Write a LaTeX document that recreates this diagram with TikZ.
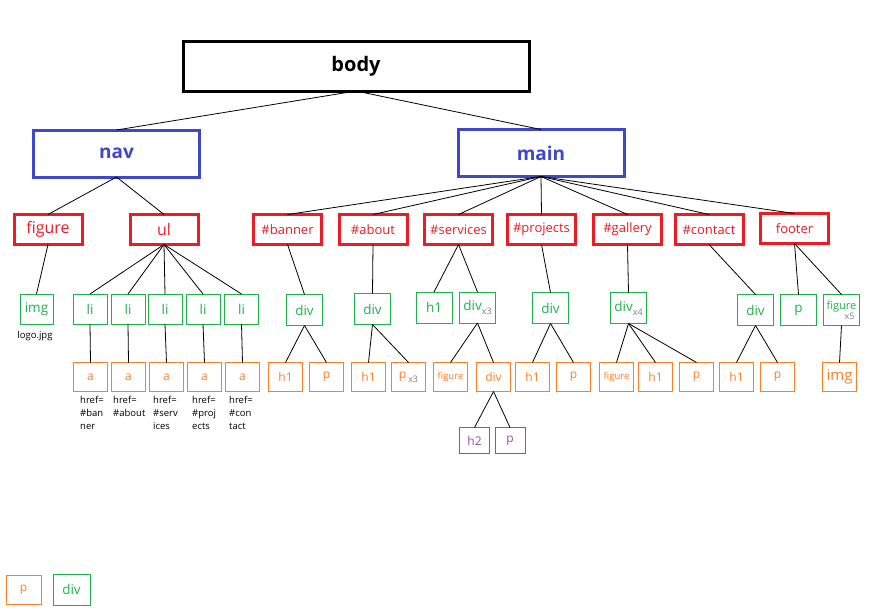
\documentclass[tikz,border=0pt]{standalone}
\usepackage{fontspec}
\setmainfont{Open Sans}
\definecolor{cred}{HTML}{ED1C24}
\definecolor{cblue}{HTML}{3F48CC}
\definecolor{cgreen}{HTML}{22B14C}
\definecolor{corange}{HTML}{FF7F27}
\definecolor{cpurple}{HTML}{A349A4}
\definecolor{cgray}{HTML}{7F7F7F}
\newcommand{\mlt}[1]{\raisebox{-0.55ex}{\fontsize{9}{10}\selectfont\color{cgray}#1}}
\tikzset{
  box/.style={draw, inner sep=0pt, outer sep=0pt, align=center},
  lvzero/.style={box, line width=3pt, minimum width=346pt, minimum height=50pt, font=\fontsize{20}{24}\selectfont\bfseries},
  lvone/.style={box, draw=cblue, text=cblue, line width=3pt, minimum width=166pt, minimum height=47pt, font=\fontsize{19}{22}\selectfont\bfseries},
  lvtwo/.style={box, draw=cred, text=cred, line width=3pt, minimum width=68pt, minimum height=30pt, font=\fontsize{13}{16}\selectfont},
  bigred/.style={font=\fontsize{16}{19}\selectfont},
  lvthree/.style={box, draw=cgreen, text=cgreen, line width=0.9pt, minimum width=36pt, minimum height=31pt, font=\fontsize{13.5}{16}\selectfont},
  lvfour/.style={box, draw=corange, text=corange, line width=0.9pt, minimum width=34pt, minimum height=29pt, font=\fontsize{12}{14}\selectfont},
  smallfig/.style={font=\fontsize{9.5}{11}\selectfont},
  lvfive/.style={box, draw=cpurple, text=cpurple, line width=0.9pt, minimum width=30pt, minimum height=26pt, font=\fontsize{12}{14}\selectfont},
  note/.style={inner sep=0pt, align=left, font=\fontsize{9.5}{13}\selectfont, anchor=north west},
  edge/.style={line width=0.8pt, black},
}
\begin{document}
\begin{tikzpicture}[x=1pt,y=-1pt]
\useasboundingbox[fill=white] (0,0) rectangle (875,614);
% level 0
\node[lvzero] (body) at (356,66) {body};
% level 1
\node[lvone] (nav) at (116.5,153.5) {nav};
\node[lvone] (main) at (541,153) {main};
% level 2
\node[lvtwo,bigred] (figure) at (48,229.5) {figure};
\node[lvtwo,bigred] (ul) at (164,229.5) {ul};
\node[lvtwo] (banner) at (287.5,229.5) {\#banner};
\node[lvtwo] (about) at (373,229.5) {\#about};
\node[lvtwo] (services) at (458.5,229.5) {\#services};
\node[lvtwo] (projects) at (541.5,229.5) {\#projects};
\node[lvtwo] (gallery) at (627.5,229.5) {\#gallery};
\node[lvtwo] (contact) at (709,229.5) {\#contact};
\node[lvtwo] (footer) at (794.5,228.5) {footer};
% level 3
\node[lvthree,minimum width=33pt,minimum height=30pt] (img) at (36.5,309) {img};
\node[lvthree,minimum width=34pt,minimum height=30pt] (lia) at (90,309) {li};
\node[lvthree,minimum width=34pt,minimum height=30pt] (lib) at (128,309) {li};
\node[lvthree,minimum width=34pt,minimum height=30pt] (lic) at (165,309) {li};
\node[lvthree,minimum width=34pt,minimum height=30pt] (lid) at (203,309) {li};
\node[lvthree,minimum width=34pt,minimum height=30pt] (lie) at (241.5,309) {li};
\node[lvthree] (divban) at (304.5,310) {div};
\node[lvthree] (divabo) at (372.5,309) {div};
\node[lvthree] (hser) at (434,307.5) {h1};
\node[lvthree] (divser) at (477.5,307.5) {div\mlt{x3}};
\node[lvthree] (divpro) at (550.5,308) {div};
\node[lvthree] (divgal) at (628.5,308) {div\mlt{x4}};
\node[lvthree] (divcon) at (755.5,310) {div};
\node[lvthree] (pfoot) at (798.5,310) {p};
\node[lvthree,font=\fontsize{11}{12}\selectfont] (figfoot) at (841.5,310) {figure\\[-5pt]\hspace*{16pt}\mlt{x5}};
% level 4
\node[lvfour] (aa) at (90.5,377) {a};
\node[lvfour] (ab) at (128.5,377) {a};
\node[lvfour] (ac) at (166.5,377) {a};
\node[lvfour] (ad) at (204.5,377) {a};
\node[lvfour] (ae) at (242.5,377) {a};
\node[lvfour] (hban) at (285.5,377) {h1};
\node[lvfour] (pban) at (326.5,377) {p};
\node[lvfour] (habo) at (368.5,377) {h1};
\node[lvfour] (pabo) at (408.5,377) {p\,\mlt{x3}};
\node[lvfour,smallfig] (figser) at (450.5,377) {figure};
\node[lvfour] (divinner) at (493.5,377) {div};
\node[lvfour] (hpro) at (532.5,377) {h1};
\node[lvfour] (ppro) at (573.5,377) {p};
\node[lvfour,smallfig] (figgal) at (616.5,377) {figure};
\node[lvfour] (hgal) at (655.5,377) {h1};
\node[lvfour] (pgal) at (696.5,377) {p};
\node[lvfour] (hcon) at (736.5,377) {h1};
\node[lvfour] (pcon) at (777.5,377) {p};
\node[lvfour,font=\fontsize{15}{17}\selectfont] (imgfoot) at (839.5,377) {img};
% level 5
\node[lvfive] (htwo) at (474.5,440.5) {h2};
\node[lvfive] (pinner) at (510,440.5) {p};
% notes
\node[inner sep=0pt, font=\fontsize{9.5}{11}\selectfont] (logo) at (35,336) {logo.jpg};
\node[note] (na) at (80,396) {href=\\\#ban\\ner};
\node[note] (nb) at (113,396) {href=\\\#about};
\node[note] (nc) at (153,396) {href=\\\#serv\\ices};
\node[note] (nd) at (192,396) {href=\\\#proj\\ects};
\node[note] (ne) at (229,396) {href=\\\#con\\tact};
% legend
\node[lvfour,minimum width=35pt,minimum height=29pt] (legp) at (23.5,589.5) {p};
\node[lvthree,minimum width=37pt,minimum height=31pt] (legdiv) at (71.5,589.5) {div};
% edges
\draw[edge] (body.south) -- (nav.north);
\draw[edge] (body.south) -- (main.north);
\foreach \c in {figure,ul} \draw[edge] (nav.south) -- (\c.north);
\foreach \c in {banner,about,services,projects,gallery,contact,footer} \draw[edge] (main.south) -- (\c.north);
\draw[edge] (figure.south) -- (img.north);
\foreach \c in {lia,lib,lic,lid,lie} \draw[edge] (ul.south) -- (\c.north);
\draw[edge] (lia.south) -- (aa.north);
\draw[edge] (lib.south) -- (ab.north);
\draw[edge] (lic.south) -- (ac.north);
\draw[edge] (lid.south) -- (ad.north);
\draw[edge] (lie.south) -- (ae.north);
\draw[edge] (banner.south) -- (divban.north);
\draw[edge] (about.south) -- (divabo.north);
\draw[edge] (services.south) -- (hser.north);
\draw[edge] (services.south) -- (divser.north);
\draw[edge] (projects.south) -- (divpro.north);
\draw[edge] (gallery.south) -- (divgal.north);
\draw[edge] (contact.south) -- (divcon.north);
\draw[edge] (footer.south) -- (pfoot.north);
\draw[edge] (footer.south) -- (figfoot.north);
\draw[edge] (divban.south) -- (hban.north);
\draw[edge] (divban.south) -- (pban.north);
\draw[edge] (divabo.south) -- (habo.north);
\draw[edge] (divabo.south) -- (pabo.north);
\draw[edge] (divser.south) -- (figser.north);
\draw[edge] (divser.south) -- (divinner.north);
\draw[edge] (divinner.south) -- (htwo.north);
\draw[edge] (divinner.south) -- (pinner.north);
\draw[edge] (divpro.south) -- (hpro.north);
\draw[edge] (divpro.south) -- (ppro.north);
\draw[edge] (divgal.south) -- (figgal.north);
\draw[edge] (divgal.south) -- (hgal.north);
\draw[edge] (divgal.south) -- (pgal.north);
\draw[edge] (divcon.south) -- (hcon.north);
\draw[edge] (divcon.south) -- (pcon.north);
\draw[edge] (figfoot.south) -- (imgfoot.north);
\end{tikzpicture}
\end{document}
